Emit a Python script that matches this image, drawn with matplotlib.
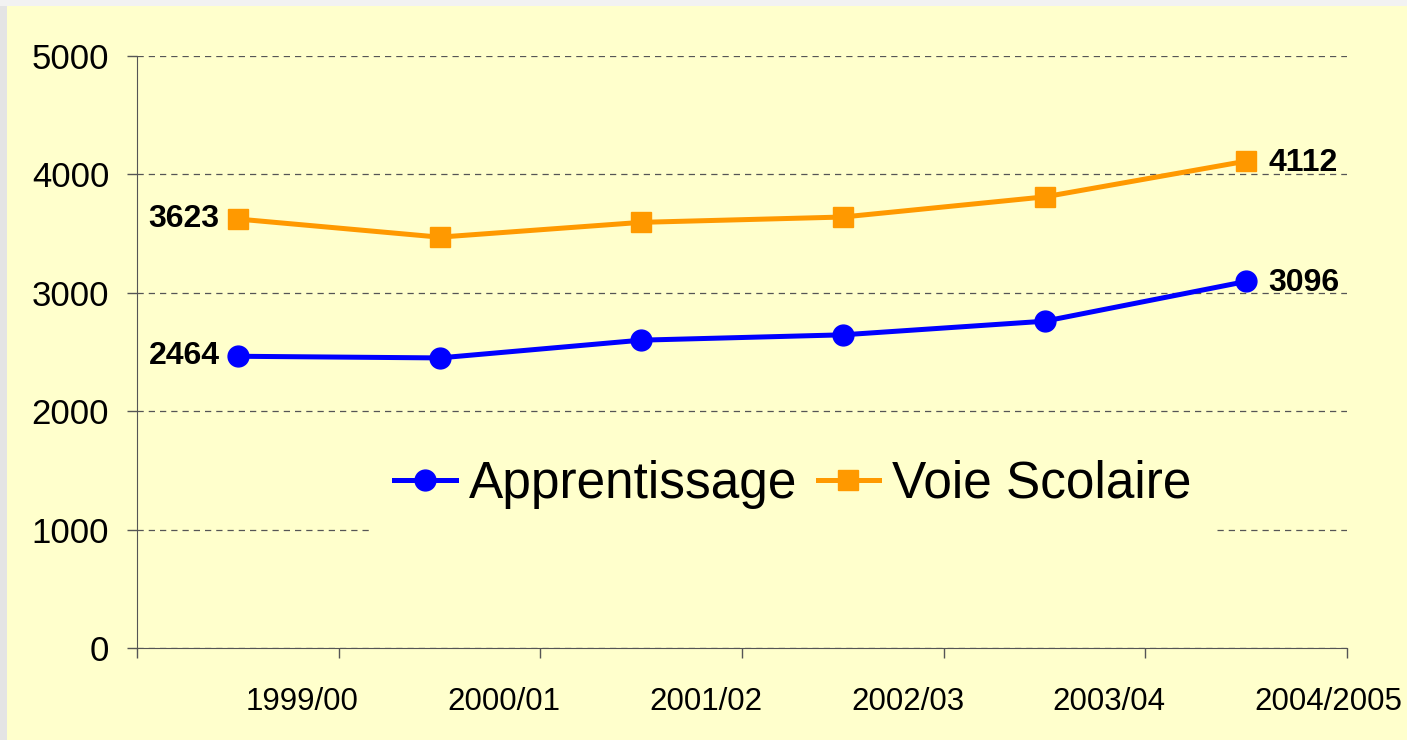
import matplotlib.pyplot as plt
from matplotlib.patches import Rectangle

plt.rcParams['font.family'] = ['Liberation Sans', 'DejaVu Sans']

# donnees
annees = ['1999/00', '2000/01', '2001/02', '2002/03', '2003/04', '2004/2005']
apprentissage = [2464, 2450, 2600, 2645, 2760, 3096]
voie_scolaire = [3623, 3470, 3595, 3640, 3810, 4112]
y_ticks = [0, 1000, 2000, 3000, 4000, 5000]

jaune = '#FFFFCC'
bleu = '#0000FF'
orange = '#FF9900'

fig = plt.figure(figsize=(14.07, 7.40), dpi=100, facecolor=jaune)
# petite bordure grise en haut et a gauche
fig.patches.append(Rectangle((0, 0), 7 / 1407, 1, transform=fig.transFigure,
                             facecolor='#E4E4E4', edgecolor='none'))
fig.patches.append(Rectangle((0, 1 - 6 / 740), 1, 6 / 740, transform=fig.transFigure,
                             facecolor='#F2F2F2', edgecolor='none'))

ax = fig.add_axes([137 / 1407, 92 / 740, 1210 / 1407, 592 / 740])
ax.set_facecolor(jaune)

x = list(range(len(annees)))
ax.plot(x, apprentissage, color=bleu, lw=3.6, marker='o', ms=15,
        label='Apprentissage', zorder=3)
ax.plot(x, voie_scolaire, color=orange, lw=3.6, marker='s', ms=14,
        label='Voie Scolaire', zorder=3)

# etiquettes premiere / derniere valeur
for serie in (apprentissage, voie_scolaire):
    ax.annotate(f"{serie[0]}", (0, serie[0]), xytext=(-13, 0), textcoords='offset points',
                ha='right', va='center', fontsize=23, fontweight='bold')
    ax.annotate(f"{serie[-1]}", (x[-1], serie[-1]), xytext=(16, -1), textcoords='offset points',
                ha='left', va='center', fontsize=23, fontweight='bold')

ax.set_xlim(-0.5, len(annees) - 0.5)
ax.set_ylim(0, 5000)
ax.set_yticks(y_ticks)
ax.tick_params(axis='y', labelsize=25, length=7, width=1, pad=13, color='#555555')
ax.set_xticks([i - 0.5 for i in range(len(annees) + 1)])
ax.set_xticklabels([])
ax.tick_params(axis='x', length=7, width=1, direction='out', color='#555555')

# libelles des annees, decales vers la droite comme l'original
for i, a in enumerate(annees):
    ax.text(i + 0.04, -0.092, a, transform=ax.get_xaxis_transform(),
            ha='left', va='center', fontsize=22.5)

ax.yaxis.grid(True, linestyle=(0, (5, 4)), color='#555555', lw=0.9)
ax.set_axisbelow(True)
for s in ('top', 'right'):
    ax.spines[s].set_visible(False)
ax.spines['left'].set_color('#555555')
ax.spines['bottom'].set_color('#555555')

leg = ax.legend(loc='center', bbox_to_anchor=(0.542, 0.277), ncol=2, fontsize=37,
                frameon=True, facecolor=jaune, edgecolor='none', framealpha=1,
                handlelength=1.2, handletextpad=0.25, columnspacing=0.4,
                borderpad=0.5, borderaxespad=0)
leg.set_zorder(5)

plt.savefig('out.png', dpi=100, facecolor=jaune)
